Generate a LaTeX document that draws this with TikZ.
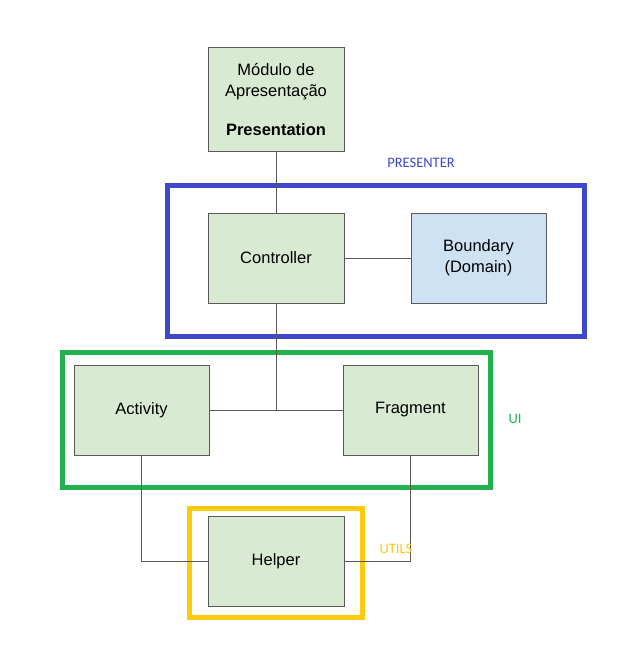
\documentclass[tikz,border=0pt]{standalone}
\usepackage{fontspec}
\setmainfont{Liberation Sans}
\newfontfamily\labelfont{Carlito}
\definecolor{boxgreen}{HTML}{D9EAD3}
\definecolor{boxblue}{HTML}{CFE2F3}
\definecolor{edgegray}{HTML}{595959}
\definecolor{presblue}{HTML}{3F48CC}
\definecolor{uigreen}{HTML}{22B14C}
\definecolor{utilyellow}{HTML}{FFC90E}
\begin{document}
\begin{tikzpicture}[x=1pt,y=-1pt,
  comp/.style={draw=edgegray, line width=1pt, fill=boxgreen, minimum width=136pt, minimum height=90pt, inner sep=0pt, font=\fontsize{16.5}{21}\selectfont, align=center},
  link/.style={draw=edgegray, line width=1pt},
  group/.style={line width=5pt},
  grouplabel/.style={font=\labelfont\fontsize{14.5}{17}\selectfont, inner sep=0pt}]
\useasboundingbox (0,0) rectangle (620,655);
\fill[white] (0,0) rectangle (620,655);
% group frames
\draw[group, draw=presblue] (167,185) rectangle (584,336);
\draw[group, draw=uigreen] (62,352) rectangle (490,487);
\draw[group, draw=utilyellow] (189,508) rectangle (362,617);
% components
\node[comp, minimum height=104pt] (pres) at (276,100) {Módulo de\\Apresentação\\[18pt]\textbf{Presentation}};
\node[comp] (ctrl) at (276,258) {Controller};
\node[comp, fill=boxblue, minimum width=135pt] (bound) at (478.5,258) {Boundary\\(Domain)};
\node[comp, minimum width=135pt] (act) at (141.5,410) {Activity};
\node[comp, minimum width=135pt] (frag) at (410.5,410) {Fragment};
\node[comp] (help) at (276,561.5) {Helper};
\coordinate (junc) at (ctrl.south |- act.east);
% connectors
\draw[link] (pres.south) -- (ctrl.north);
\draw[link] (ctrl.east) -- (bound.west);
\draw[link] (ctrl.south) -- (junc);
\draw[link] (act.east) -- (frag.west);
\draw[link] (act.south) |- (help.west);
\draw[link] (frag.south) |- (help.east);
% labels
\node[grouplabel, text=presblue] (lpres) at (421,163) {PRESENTER};
\node[grouplabel, text=uigreen] (lui) at (515,419) {UI};
\node[grouplabel, text=utilyellow] (lutil) at (396,549) {UTILS};
\end{tikzpicture}
\end{document}
